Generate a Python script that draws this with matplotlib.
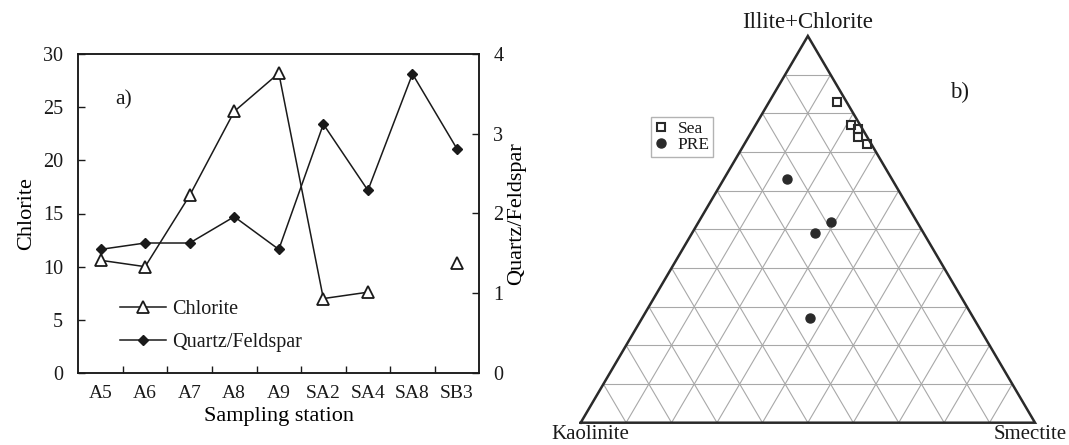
import numpy as np
import matplotlib
matplotlib.use("Agg")
from matplotlib import pyplot as plt

plt.rcParams["font.family"] = ["Liberation Serif", "DejaVu Serif"]
plt.rcParams["text.color"] = "#1a1a1a"

# Painel a) dados por estacao
estacoes = ["A5", "A6", "A7", "A8", "A9", "SA2", "SA4", "SA8", "SB3"]
clorita = [10.6, 10.0, 16.7, 24.6, 28.2, 7.0, 7.6, np.nan, 10.3]
quartzo_feldspato = [1.55, 1.63, 1.63, 1.96, 1.55, 3.12, 2.29, 3.75, 2.81]

# Painel b) ternario (fracoes)
mar_illita = [0.83, 0.77, 0.76, 0.74, 0.72]
mar_esmectita = [0.15, 0.21, 0.23, 0.24, 0.27]
pre_illita = [0.63, 0.52, 0.49, 0.27]
pre_esmectita = [0.14, 0.29, 0.27, 0.37]

cor = "#1a1a1a"
fig = plt.figure(figsize=(10.69, 4.45), dpi=100)

# ---- a) ----
ax = fig.add_axes([78.3 / 1069, 72 / 445, 401 / 1069, 319 / 445])
ax2 = ax.twinx()
x = np.arange(len(estacoes))
l1, = ax.plot(x, clorita, color=cor, lw=1.1, marker="^", ms=8,
              mfc="white", mec=cor, mew=1.3, label="Chlorite")
l2, = ax2.plot(x, quartzo_feldspato, color=cor, lw=1.1, marker="D", ms=5,
               mfc=cor, mec=cor, label="Quartz/Feldspar")
ax.set_xlim(-0.5, len(estacoes) - 0.5)
ax.set_ylim(0, 30)
ax2.set_ylim(0, 4)
ax.set_yticks(np.arange(0, 31, 5))
ax2.set_yticks(np.arange(0, 5, 1))
ax.set_xticks(x)
ax.set_xticklabels(estacoes)
ax.set_xticks(x[:-1] + 0.5, minor=True)
ax.tick_params(axis="x", which="major", length=0, pad=9, labelsize=14, colors=cor)
ax.tick_params(axis="x", which="minor", direction="in", length=5, width=1, color=cor)
ax.tick_params(axis="y", direction="in", length=5, width=1, pad=11, labelsize=14.5, colors=cor)
ax2.tick_params(axis="y", direction="in", length=5, width=1, pad=10, labelsize=14.5, colors=cor)
for a in (ax, ax2):
    for s in a.spines.values():
        s.set_linewidth(1.1)
        s.set_color(cor)
ax.set_xlabel("Sampling station", fontsize=16, labelpad=3)
ax.set_ylabel("Chlorite", fontsize=16, labelpad=5)
ax2.set_ylabel("Quartz/Feldspar", fontsize=16, labelpad=3)
ax.text(0.092, 0.855, "a)", transform=ax.transAxes, fontsize=15.5, va="center")
ax.legend(handles=[l1, l2], loc="center left", bbox_to_anchor=(0.104, 0.148),
          frameon=False, fontsize=14.5, handlelength=2.3, handletextpad=0.3,
          labelspacing=0.7, borderpad=0, borderaxespad=0)

# ---- b) ternario ----
bx = fig.add_axes([580.7 / 1069, 22.3 / 445, 454.3 / 1069, 386.7 / 445])
bx.set_xlim(0, 1)
bx.set_ylim(0, 1)
bx.axis("off")


def para_xy(illita, esmectita):
    illita = np.asarray(illita)
    esmectita = np.asarray(esmectita)
    return esmectita + illita / 2, illita


cinza = "#a8a8a8"
for i in range(1, 10):
    f = i / 10
    # illita constante
    bx.plot([f / 2, 1 - f / 2], [f, f], color=cinza, lw=0.8, zorder=1)
    # esmectita constante
    bx.plot([f, f + (1 - f) / 2], [0, 1 - f], color=cinza, lw=0.8, zorder=1)
    # caulinita constante
    bx.plot([1 - f, (1 - f) / 2], [0, 1 - f], color=cinza, lw=0.8, zorder=1)
bx.plot([0, 1, 0.5, 0], [0, 0, 1, 0], color="#2a2a2a", lw=1.8, zorder=2,
        clip_on=False, solid_joinstyle="miter")

mx, my = para_xy(mar_illita, mar_esmectita)
px, py = para_xy(pre_illita, pre_esmectita)
bx.plot(mx, my, "s", ms=6.3, mfc="none", mec="#2a2a2a", mew=1.5,
        label="Sea", zorder=3, clip_on=False)
bx.plot(px, py, "o", ms=6.5, mfc="#2a2a2a", mec="#2a2a2a",
        label="PRE", zorder=3, clip_on=False)

bx.text(0.5, 1.034, "Illite+Chlorite", fontsize=16.5, ha="center", va="center")
bx.text(0.022, -0.055, "Kaolinite", fontsize=15, ha="center", va="bottom", clip_on=False)
bx.text(0.99, -0.055, "Smectite", fontsize=15, ha="center", va="bottom", clip_on=False)
bx.text(0.833, 0.855, "b)", fontsize=16.5, ha="center", va="center")

lg = bx.legend(loc="upper left", bbox_to_anchor=(650.7 / 1069, 1 - 117.3 / 445),
               bbox_transform=fig.transFigure, fontsize=12.5, frameon=True,
               fancybox=False, borderpad=0.2, handlelength=0.8,
               handletextpad=0.55, labelspacing=0.0, borderaxespad=0)
lg.get_frame().set_edgecolor("#a0a0a0")
lg.get_frame().set_linewidth(1.0)

fig.savefig("out.png", dpi=100)
